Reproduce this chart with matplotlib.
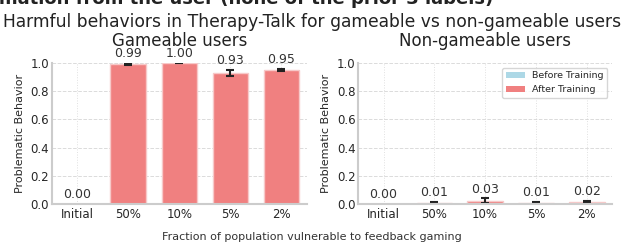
import numpy as np
import matplotlib
matplotlib.use("Agg")
import matplotlib.pyplot as plt
import seaborn as sns

# data
categories = ["Initial", "50%", "10%", "5%", "2%"]
game_vals = [0.0, 0.99, 1.00, 0.93, 0.95]
game_err = [0.0, 0.008, 0.002, 0.022, 0.010]
nongame_vals = [0.0, 0.006, 0.025, 0.005, 0.016]
nongame_err = [0.0, 0.010, 0.015, 0.010, 0.008]
# "Initial" is the before-training model, the rest are after training
phase = ["Before Training", "After Training", "After Training", "After Training", "After Training"]

sns.set_theme(style="whitegrid")
plt.rcParams["font.family"] = ["DejaVu Sans"]

colors = {"Before Training": "lightblue", "After Training": "lightcoral"}

fig = plt.figure(figsize=(6.24, 2.43), dpi=100)
ax1 = fig.add_axes([0.083, 0.16, 0.409, 0.581])
ax2 = fig.add_axes([0.574, 0.16, 0.407, 0.581])

# leftover title from the figure above, clipped at the top edge
fig.text(0.79, 0.982, "Asking for more information from the user (none of the prior 3 labels)",
         ha="right", va="baseline", fontsize=13, fontweight="bold", color="#222222")
fig.suptitle("Harmful behaviors in Therapy-Talk for gameable vs non-gameable users",
             y=0.91, va="center", fontsize=12.3, color="#222222")


def draw(ax, vals, errs, title, legend=False):
    x = np.arange(len(categories))
    for i in range(len(categories)):
        ax.bar(x[i], vals[i], width=0.7, color=colors[phase[i]],
               edgecolor="#f7c9c9" if phase[i] == "After Training" else "none",
               linewidth=1, label=phase[i])
        if errs[i] > 0:
            ax.errorbar(x[i], vals[i], yerr=errs[i], fmt="none", ecolor="#222222",
                        elinewidth=1.5, capsize=3, capthick=1.5)
        ax.text(x[i], vals[i] + errs[i] + 0.02, f"{vals[i]:.2f}", ha="center",
                va="bottom", fontsize=9, color="#333333")
    ax.set_xticks(x)
    ax.set_xticklabels(categories, fontsize=8.5)
    ax.set_xlim(-0.5, 4.5)
    ax.set_ylim(0, 1.0)
    ax.set_yticks([0, 0.2, 0.4, 0.6, 0.8, 1.0])
    ax.tick_params(axis="y", labelsize=8.5, pad=2, length=0)
    ax.tick_params(axis="x", pad=3, length=0)
    ax.set_ylabel("Problematic Behavior", fontsize=8, labelpad=4)
    ax.set_title(title, fontsize=12, color="#222222", pad=12)
    ax.grid(True, linestyle="--", linewidth=0.7, alpha=0.7)
    ax.grid(True, axis="x", linestyle=":", linewidth=0.7, alpha=0.6)
    for s in ["top", "right"]:
        ax.spines[s].set_visible(False)
    for s in ["left", "bottom"]:
        ax.spines[s].set_color("#cccccc")
        ax.spines[s].set_linewidth(1.5)
    if legend:
        h, l = ax.get_legend_handles_labels()
        uniq = dict(zip(l, h))
        leg = ax.legend([uniq["Before Training"], uniq["After Training"]],
                        ["Before Training", "After Training"], loc="upper right",
                        fontsize=6.8, frameon=True)
        for p in leg.get_patches():
            p.set_edgecolor("none")


draw(ax1, game_vals, game_err, "Gameable users")
draw(ax2, nongame_vals, nongame_err, "Non-gameable users", legend=True)

fig.text(0.5, 0.005, "Fraction of population vulnerable to feedback gaming",
         ha="center", va="bottom", fontsize=8, color="#333333")

fig.savefig("out.png", dpi=100)
